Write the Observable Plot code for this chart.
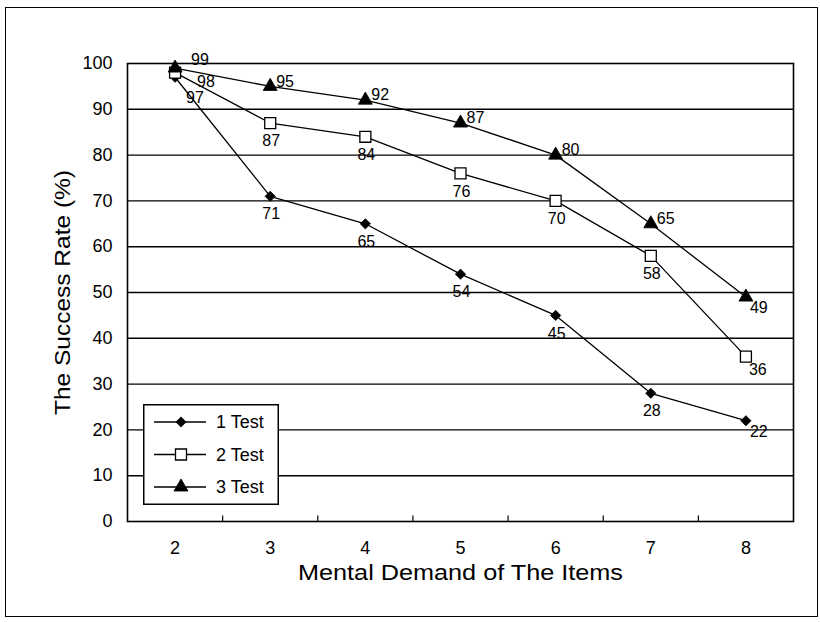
<!DOCTYPE html>
<html>
<head>
<meta charset="utf-8">
<script src="https://cdn.jsdelivr.net/npm/d3@7"></script>
<script src="https://cdn.jsdelivr.net/npm/@observablehq/plot@0.6"></script>
<style>
  body { margin: 0; background: #fff; }
  #wrap { position: relative; width: 820px; height: 622px; font-family: "Liberation Sans", Arial, sans-serif; }
  #frame { position: absolute; left: 5px; top: 7px; width: 813px; height: 610px; border: 1.5px solid #000; box-sizing: border-box; pointer-events: none; }
  #legend { position: absolute; left: 143px; top: 404px; }
  #wrap svg { display: block; }
</style>
</head>
<body>
<div id="wrap"><div id="frame"></div></div>
<script>
// ---- data ----
const xItems = [2, 3, 4, 5, 6, 7, 8];
const seriesNames = ["1 Test", "2 Test", "3 Test"];
const test1 = [97, 71, 65, 54, 45, 28, 22];
const test2 = [98, 87, 84, 76, 70, 58, 36];
const test3 = [99, 95, 92, 87, 80, 65, 49];
const yTickValues = [0, 10, 20, 30, 40, 50, 60, 70, 80, 90, 100];
const xTitle = "Mental Demand of The Items";
const yTitle = "The Success Rate (%)";

const seriesValues = [test1, test2, test3];
const rows = seriesNames.flatMap((s, k) =>
  seriesValues[k].map((v, i) => ({ series: s, k, i, x: xItems[i], y: v, label: String(v) }))
);
const gridValues = yTickValues.filter(v => v > 0 && v < 100);
const boundaries = xItems.slice(0, -1).map(v => v + 0.5);

// symbol styles
const symbolStyle = [
  { symbol: "diamond2", r: 4.6, fill: "#000", stroke: "#000", strokeWidth: 0.8 },
  { symbol: "square", r: 6.2, fill: "#fff", stroke: "#000", strokeWidth: 1.3 },
  { symbol: "triangle", r: 5.2, fill: "#000", stroke: "#000", strokeWidth: 0.8 }
];

// label placement (style only): [dx, dy, anchor]
function placement(k, i) {
  const last = xItems.length - 1;
  if (i === 0) return [[11, 21], [22, 9], [16, -8]][k].concat("start");
  if (i === last) return [[4, 11], [3, 13], [4, 11]][k].concat("start");
  if (k === 2) return [6, -5, "start"];
  return [1, 18, "middle"];
}

const labelMarks = rows.map(d => {
  const [dx, dy, anchor] = placement(d.k, d.i);
  return Plot.text([d], { x: "x", y: "y", text: "label", dx, dy, textAnchor: anchor, fontSize: 16, fill: "#000" });
});

const dotMarks = symbolStyle.map((st, k) =>
  Plot.dot(rows.filter(d => d.k === k), { x: "x", y: "y", ...st })
);

const chart = Plot.plot({
  width: 820,
  height: 622,
  marginLeft: 127,
  marginRight: 27,
  marginTop: 63,
  marginBottom: 101,
  style: { fontFamily: "'Liberation Sans', Arial, sans-serif", color: "#000", background: "transparent" },
  x: { domain: [1.5, 8.5] },
  y: { domain: [0, 100] },
  marks: [
    Plot.ruleY(gridValues, { stroke: "#000", strokeWidth: 1.4 }),
    Plot.ruleX(boundaries, { y1: 0, y2: 1.2, stroke: "#000", strokeWidth: 1.2 }),
    Plot.frame({ stroke: "#000", strokeWidth: 1.6 }),
    Plot.line(rows, { x: "x", y: "y", z: "series", stroke: "#000", strokeWidth: 1.3 }),
    ...dotMarks,
    ...labelMarks,
    Plot.axisY({ ticks: yTickValues, tickSize: 0, tickPadding: 15, fontSize: 18, label: null, tickFormat: d => String(d) }),
    Plot.axisX({ ticks: xItems, tickSize: 0, tickPadding: 20, fontSize: 18, label: null, tickFormat: d => String(d) }),
    Plot.text([xTitle], { frameAnchor: "bottom", dy: 58, fontSize: 22, fill: "#000", textAnchor: "middle" }),
    Plot.text([yTitle], { frameAnchor: "left", dx: -65, rotate: -90, fontSize: 22, fill: "#000", textAnchor: "middle" })
  ]
});

const wrap = document.getElementById("wrap");
wrap.insertBefore(chart, wrap.firstChild);

// stretch axis titles like the reference
d3.select(chart).selectAll("text").each(function () {
  const t = this.textContent;
  if (t === xTitle) { this.setAttribute("textLength", 325); this.setAttribute("lengthAdjust", "spacingAndGlyphs"); }
  if (t === yTitle) { this.setAttribute("textLength", 245); this.setAttribute("lengthAdjust", "spacingAndGlyphs"); }
});

// ---- legend ----
const lg = d3.select(wrap).append("svg").attr("id", "legend")
  .attr("width", 136).attr("height", 101)
  .style("font-family", "'Liberation Sans', Arial, sans-serif");
lg.append("rect").attr("x", 0.75).attr("y", 0.75).attr("width", 134.5).attr("height", 99.5)
  .attr("fill", "#fff").attr("stroke", "#000").attr("stroke-width", 1.5);
const symbolTypes = { diamond2: d3.symbolDiamond2, square: d3.symbolSquare, triangle: d3.symbolTriangle };
seriesNames.forEach((name, k) => {
  const cy = 18 + k * 32.5;
  const st = symbolStyle[k];
  lg.append("line").attr("x1", 11).attr("x2", 63).attr("y1", cy).attr("y2", cy)
    .attr("stroke", "#000").attr("stroke-width", 1.3);
  lg.append("path").attr("transform", `translate(38,${cy})`)
    .attr("d", d3.symbol(symbolTypes[st.symbol], st.r * st.r * Math.PI)())
    .attr("fill", st.fill).attr("stroke", st.stroke).attr("stroke-width", st.strokeWidth);
  lg.append("text").attr("x", 73).attr("y", cy).attr("dy", "0.35em")
    .attr("font-size", 18).attr("fill", "#000").text(name);
});
</script>
</body>
</html>
